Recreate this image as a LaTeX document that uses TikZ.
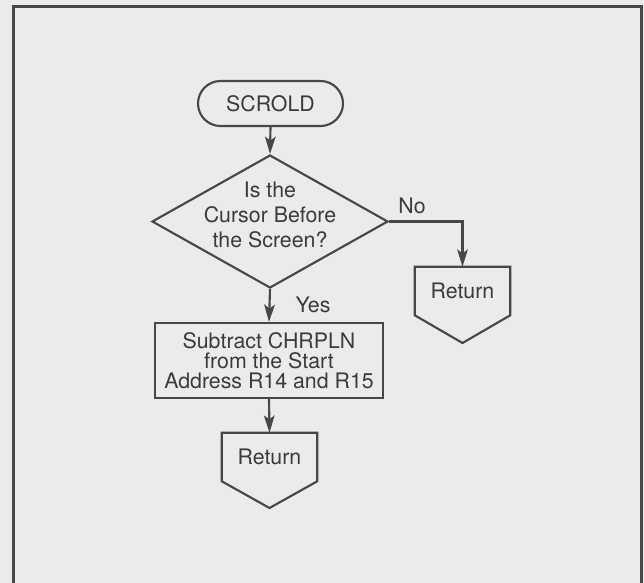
\documentclass[tikz,border=0pt]{standalone}
\usepackage{fontspec}
\setmainfont{TeX Gyre Heros}
\usetikzlibrary{shapes.geometric,shapes.misc,arrows.meta}
\definecolor{paper}{HTML}{EBEBE9}
\definecolor{ink}{HTML}{474747}
\definecolor{txt}{HTML}{3A3A3A}
\tikzset{
  lbl/.style={text=txt,font=\fontsize{16pt}{18.75pt}\selectfont,inner sep=0pt,align=center},
  termbox/.style={rounded rectangle,draw=ink,line width=1.6pt,minimum width=108.75pt,minimum height=33.75pt,inner sep=0pt,text=txt,font=\fontsize{16pt}{18pt}\selectfont},
  decbox/.style={diamond,draw=ink,line width=1.6pt,minimum width=177pt,minimum height=99.75pt,inner sep=0pt},
  procbox/.style={rectangle,draw=ink,line width=1.6pt,minimum width=171pt,minimum height=56.25pt,inner sep=0pt,text=txt,align=center,font=\fontsize{16pt}{14.8pt}\selectfont},
  retbox/.style={rectangle,minimum width=71.25pt,minimum height=36pt,inner sep=0pt,text=txt,font=\fontsize{16pt}{18pt}\selectfont},
  retline/.style={draw=ink,line width=1.6pt,line join=miter},
  flow/.style={draw=ink,line width=1.6pt,-{Stealth[length=13pt,width=8pt,inset=3pt]}},
}
\begin{document}
\begin{tikzpicture}[x=0.75pt,y=-0.75pt]
\useasboundingbox (0,0) rectangle (644,583);
\clip (0,0) rectangle (644,583);
\fill[paper] (0,0) rectangle (644,583);
% frame
\draw[ink,line width=2.25pt] (13,600) -- (13,6) -- (641,6) -- (641,600);
% nodes
\node[termbox] (start) at (270.5,103.5) {SCROLD};
\node[decbox] (dec) at (270,221.5) {};
\node[lbl] (dectext) at (270,215) {Is the\\Cursor Before\\the Screen?};
\node[procbox] (proc) at (269,360.5) {Subtract CHRPLN\\from the Start\\Address R14 and R15};
\node[retbox] (retA) at (462.5,291) {Return};
\coordinate (retAtip) at (462.5,343);
\node[retbox] (retB) at (269.5,457) {Return};
\coordinate (retBtip) at (269.5,508);
\path[retline] (retA.south west) -- (retA.north west) -- (retA.north east) -- (retA.south east) -- (retAtip) -- cycle;
\path[retline] (retB.south west) -- (retB.north west) -- (retB.north east) -- (retB.south east) -- (retBtip) -- cycle;
% labels
\node[lbl] (no) at (412,206) {No};
\node[lbl] (yes) at (313,305) {Yes};
% connectors
\draw[flow] (start.south) -- (dec.north);
\draw[flow] (dec.east) -| (retA.north);
\draw[flow] (dec.south) -- (proc.north);
\draw[flow] (proc.south) -- (retB.north);
\end{tikzpicture}
\end{document}
